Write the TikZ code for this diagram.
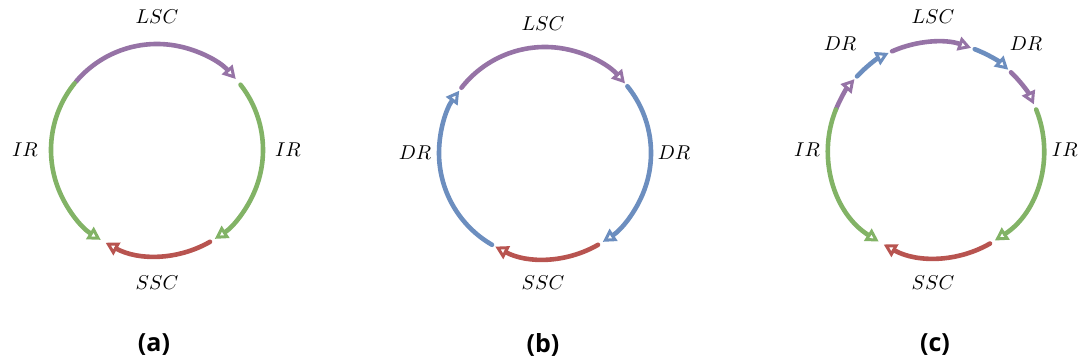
\documentclass[tikz,border=0pt]{standalone}
\usepackage{fontspec}
\newfontfamily\capfont{Open Sans}
\usetikzlibrary{arrows.meta}
\definecolor{lscpurple}{HTML}{9673A6}
\definecolor{irgreen}{HTML}{82B366}
\definecolor{drblue}{HTML}{6C8EBF}
\definecolor{sscred}{HTML}{B85450}

\begin{document}
\begin{tikzpicture}[x=0.5pt, y=0.5pt, line cap=round, line join=round]
        \useasboundingbox (0, 0) rectangle (1079, 362);
        \pgfmathsetmacro{\R}{106}
        \tikzset{phasearc/.style={-{Triangle[open, length=6.5pt, width=7pt, line width=1.5pt]}, line width=2.3pt}}
        \tikzset{lbl/.style={font=\fontsize{10}{12}\selectfont, inner sep=0pt}}
        \tikzset{captext/.style={font=\capfont\bfseries\fontsize{12.5}{14}\selectfont, inner sep=0pt}}
        % (a) intermediate rest
        \begin{scope}[shift={(157, 212)}]
            \draw[phasearc, lscpurple] (140:\R) arc[start angle=140, end angle=42, radius=\R];
            \draw[phasearc, irgreen] (38:\R) arc[start angle=38, end angle=-57, radius=\R];
            \draw[phasearc, sscred] (-60:\R) arc[start angle=-60, end angle=-119, radius=\R];
            \draw[phasearc, irgreen] (141:\R) arc[start angle=141, end angle=238, radius=\R];
            \node[lbl] (lscA) at (0, 133) {$LSC$};
            \node[lbl] (irAl) at (-132, 0) {$IR$};
            \node[lbl] (irAr) at (131, 0) {$IR$};
            \node[lbl] (sscA) at (0, -133) {$SSC$};
            \node[captext] (capA) at (-3, -195) {(a)};
        \end{scope}
        % (b) double rest
        \begin{scope}[shift={(545, 209)}]
            \draw[phasearc, lscpurple] (142:\R) arc[start angle=142, end angle=41, radius=\R];
            \draw[phasearc, drblue] (39:\R) arc[start angle=39, end angle=-57, radius=\R];
            \draw[phasearc, sscred] (-60:\R) arc[start angle=-60, end angle=-118, radius=\R];
            \draw[phasearc, drblue] (-120:\R) arc[start angle=-120, end angle=-216, radius=\R];
            \node[lbl] (lscB) at (-2, 129) {$LSC$};
            \node[lbl] (drBl) at (-130, 0) {$DR$};
            \node[lbl] (drBr) at (129, 0) {$DR$};
            \node[lbl] (sscB) at (-2, -130) {$SSC$};
            \node[captext] (capB) at (-2, -192) {(b)};
        \end{scope}
        % (c) all phases
        \begin{scope}[shift={(936, 212)}]
            \pgfmathsetmacro{\R}{108}
            \draw[phasearc, lscpurple] (158:\R) arc[start angle=158, end angle=139, radius=\R];
            \draw[phasearc, drblue] (137:\R) arc[start angle=137, end angle=116, radius=\R];
            \draw[phasearc, lscpurple] (114:\R) arc[start angle=114, end angle=71, radius=\R];
            \draw[phasearc, drblue] (69:\R) arc[start angle=69, end angle=48, radius=\R];
            \draw[phasearc, lscpurple] (46:\R) arc[start angle=46, end angle=25, radius=\R];
            \draw[phasearc, irgreen] (22:\R) arc[start angle=22, end angle=-57, radius=\R];
            \draw[phasearc, sscred] (-60:\R) arc[start angle=-60, end angle=-119, radius=\R];
            \draw[phasearc, irgreen] (158:\R) arc[start angle=158, end angle=238, radius=\R];
            \node[lbl] (lscC) at (-3, 133) {$LSC$};
            \node[lbl] (drCl) at (-96, 106) {$DR$};
            \node[lbl] (drCr) at (90, 106) {$DR$};
            \node[lbl] (irCl) at (-129, 0) {$IR$};
            \node[lbl, anchor=east] (irCr) at (142, 0) {$IR$};
            \node[lbl] (sscC) at (-3, -133) {$SSC$};
            \node[captext] (capC) at (-1, -195) {(c)};
        \end{scope}
    \end{tikzpicture}
\end{document}
